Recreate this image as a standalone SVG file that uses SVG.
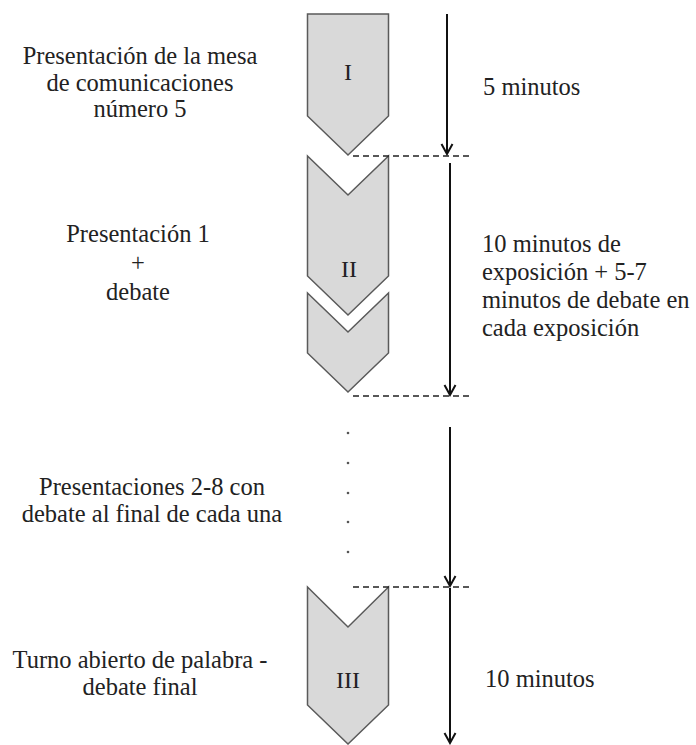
<svg xmlns="http://www.w3.org/2000/svg" width="696" height="745" viewBox="0 0 696 745">
<style>
.shape{fill:#d9d9d9;stroke:#5a5a5a;stroke-width:1.5;stroke-linejoin:miter}
text{font-family:'Liberation Serif','DejaVu Serif',serif;fill:#222}
.num{font-size:24px;text-anchor:middle}
.lbl{font-size:24.5px}
.c{text-anchor:middle}
.dash{stroke:#222;stroke-width:1.5;stroke-dasharray:6 4;fill:none}
.arr{stroke:#111;stroke-width:2;fill:none;marker-end:url(#ah)}
.dot{fill:#555}
</style>
<defs>
<marker id="ah" markerUnits="userSpaceOnUse" markerWidth="14" markerHeight="14" viewBox="-12 -7 14 14" refX="0" refY="0" orient="auto">
<path d="M-10,-5.5 L0,0 L-10,5.5" fill="none" stroke="#111" stroke-width="2"/>
</marker>
</defs>
<rect width="696" height="745" fill="#fff"/>
<g id="node-I">
<path class="shape" d="M307.5,14 L388.5,14 L388.5,116 L348,155 L307.5,116 Z"/>
<text class="num" x="348" y="80">I</text>
</g>
<g id="node-II">
<path class="shape" d="M307.5,156 L348,195 L388.5,156 L388.5,276 L348,315 L307.5,276 Z"/>
<text class="num" x="349" y="277">II</text>
</g>
<g id="node-IIb">
<path class="shape" d="M307.5,293 L348,332 L388.5,293 L388.5,353 L348,392 L307.5,353 Z"/>
</g>
<g id="dots">
<circle class="dot" cx="348" cy="433" r="1.3"/>
<circle class="dot" cx="348" cy="463" r="1.3"/>
<circle class="dot" cx="348" cy="493" r="1.3"/>
<circle class="dot" cx="348" cy="522" r="1.3"/>
<circle class="dot" cx="348" cy="552" r="1.3"/>
</g>
<g id="node-III">
<path class="shape" d="M307.5,587 L348,627 L388.5,587 L388.5,705 L348,744 L307.5,705 Z"/>
<text class="num" x="348" y="688">III</text>
</g>
<g id="connectors">
<line class="dash" x1="353" y1="156" x2="470" y2="156"/>
<line class="dash" x1="353" y1="396" x2="470" y2="396"/>
<line class="dash" x1="353" y1="587" x2="470" y2="587"/>
<line class="arr" x1="447" y1="14" x2="447" y2="154"/>
<line class="arr" x1="450" y1="163" x2="450" y2="395"/>
<line class="arr" x1="450" y1="427" x2="450" y2="586"/>
<line class="arr" x1="450" y1="588" x2="450" y2="743"/>
</g>
<g id="labels-left">
<text class="lbl c" x="140" y="64">Presentación de la mesa</text>
<text class="lbl c" x="140" y="91">de comunicaciones</text>
<text class="lbl c" x="140" y="117">número 5</text>
<text class="lbl c" x="138" y="242">Presentación 1</text>
<text class="lbl c" x="138" y="271">+</text>
<text class="lbl c" x="138" y="300">debate</text>
<text class="lbl c" x="152" y="495">Presentaciones 2-8 con</text>
<text class="lbl c" x="152" y="522">debate al final de cada una</text>
<text class="lbl c" x="140" y="668">Turno abierto de palabra -</text>
<text class="lbl c" x="140" y="695">debate final</text>
</g>
<g id="labels-right">
<text class="lbl" x="483" y="95">5 minutos</text>
<text class="lbl" x="482" y="252">10 minutos de</text>
<text class="lbl" x="482" y="280">exposición + 5-7</text>
<text class="lbl" x="482" y="308">minutos de debate en</text>
<text class="lbl" x="482" y="336">cada exposición</text>
<text class="lbl" x="485" y="687">10 minutos</text>
</g>
</svg>
